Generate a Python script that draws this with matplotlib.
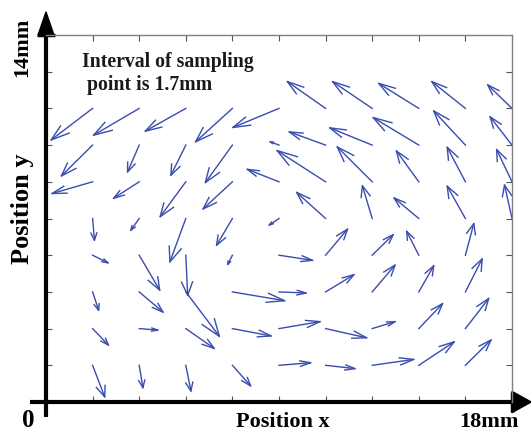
"""
Velocity field of the sampling points (quiver style, matlab-like arrows)
"""
import numpy as np
import matplotlib
matplotlib.use("Agg")
import matplotlib.pyplot as plt

# sampling grid (tick units), rows listed from top (y=8) to bottom (y=1)
x_pos = [1, 2, 3, 4, 5, 6, 7, 8, 9, 10]
y_pos = [8, 7, 6, 5, 4, 3, 2, 1]

u_rows = [
    [-0.89, -0.98, -0.87, -0.79, -0.99, -0.82, -0.85, -0.86, -0.72, -0.52],
    [-0.67, -0.25, -0.32, -0.58, -0.19, -0.78, -0.91, -0.98, -0.68, -0.47],
    [-0.87, -0.55, -0.55, -0.63, -0.68, -1.04, -0.75, -0.48, -0.39, -0.33],
    [0.04, -0.18, -0.34, -0.34, -0.21, -0.62, -0.21, -0.53, -0.39, -0.16],
    [0.33, 0.44, 0.04, -0.10, 0.72, 0.47, 0.45, -0.26, 0.18, np.nan],
    [0.13, 0.51, 0.72, 1.12, 0.58, 0.61, 0.49, 0.32, 0.36, np.nan],
    [0.34, 0.40, 0.61, 0.83, 0.88, 0.88, 0.49, 0.51, 0.50, np.nan],
    [0.26, 0.08, 0.11, 0.39, 0.68, 0.63, 0.89, 0.76, 0.55, np.nan],
]
v_rows = [
    [-0.86, -0.73, -0.62, -0.91, -0.52, 0.73, 0.73, 0.68, 0.73, 0.64],
    [-0.84, -0.73, -0.82, -1.02, 0.09, 0.36, 0.47, 0.75, 0.93, 0.77],
    [-0.32, -0.45, -0.95, -0.74, 0.34, 0.85, 0.95, 0.84, 0.94, 0.88],
    [-0.59, -0.32, -1.18, -0.73, -0.18, 0.71, 0.89, 0.56, 0.88, 0.91],
    [-0.21, -0.95, -1.09, -0.25, -0.14, 0.71, 0.56, 0.65, 0.86, np.nan],
    [-0.50, -0.55, -1.21, -0.24, -0.03, 0.47, 0.73, 0.71, 0.90, np.nan],
    [-0.45, -0.04, -0.54, -0.20, 0.19, -0.25, 0.19, 0.68, 0.82, np.nan],
    [-0.86, -0.61, -0.70, -0.56, 0.07, -0.09, 0.16, 0.64, 0.69, np.nan],
]

note_lines = ["Interval of sampling", "point is 1.7mm"]

X, Y = np.meshgrid(x_pos, y_pos)
U = np.array(u_rows)
V = np.array(v_rows)
ok = ~np.isnan(U)
X, Y, U, V = X[ok], Y[ok], U[ok], V[ok]

# matlab quiver head geometry
alpha = 0.33
beta = 0.33
tip_x = X + U
tip_y = Y + V
b1x = tip_x - alpha * (U + beta * V)
b1y = tip_y - alpha * (V - beta * U)
b2x = tip_x - alpha * (U - beta * V)
b2y = tip_y - alpha * (V + beta * U)

nan = np.full_like(X, np.nan, dtype=float)
shaft_x = np.column_stack([X, tip_x, nan]).ravel()
shaft_y = np.column_stack([Y, tip_y, nan]).ravel()
head_x = np.column_stack([b1x, tip_x, b2x, nan]).ravel()
head_y = np.column_stack([b1y, tip_y, b2y, nan]).ravel()

serif = ['Liberation Serif', 'DejaVu Serif']
blue = '#3a4cae'

fig = plt.figure(figsize=(5.31, 4.33), dpi=100)
ax = fig.add_axes([46 / 531, 31 / 433, 466 / 531, 367 / 433])

ax.plot(shaft_x, shaft_y, color=blue, lw=1.0)
ax.plot(head_x, head_y, color=blue, lw=1.0)

ax.set_xlim(0, 10)
ax.set_ylim(0, 10)
ax.set_xticks(range(1, 10))
ax.set_yticks(range(1, 10))
ax.tick_params(direction='in', top=True, right=True, length=4, width=0.8,
               color='#555555', labelbottom=False, labelleft=False)
for side in ['top', 'right']:
    ax.spines[side].set_color('#808080')
    ax.spines[side].set_linewidth(1.0)
for side in ['left', 'bottom']:
    ax.spines[side].set_visible(False)

# thick axis lines with arrow heads
tr = ax.transAxes
ax.plot([0, 0], [-0.042, 1.0], color='black', lw=3.0, transform=tr,
        clip_on=False, solid_capstyle='butt')
ax.plot([-0.034, 1.0], [0, 0], color='black', lw=3.0, transform=tr,
        clip_on=False, solid_capstyle='butt')
ax.fill([-0.017, 0.017, 0], [1.0, 1.0, 1.063], color='black', transform=tr,
        clip_on=False)
ax.fill([1.0, 1.0, 1.041], [-0.029, 0.029, 0], color='black', transform=tr,
        clip_on=False)
ax.plot([-0.02, 0.02], [1.0, 1.0], color='black', lw=2.5, transform=tr,
        clip_on=False, solid_capstyle='butt')
ax.plot([1.0, 1.0], [-0.028, 0.028], color='black', lw=2.5, transform=tr,
        clip_on=False, solid_capstyle='butt')

# note in two lines, second one slightly indented as in the original
ax.text(0.077, 0.955, note_lines[0], transform=tr, ha='left', va='top',
        family=serif, weight='bold', fontsize=14.2, color='#1a1a1a')
ax.text(0.088, 0.892, note_lines[1], transform=tr, ha='left', va='top',
        family=serif, weight='bold', fontsize=14.2, color='#1a1a1a')

fig.text(22.5 / 531, 1 - 47 / 433, '14mm', rotation=90, ha='center',
         va='center', family=serif, weight='bold', fontsize=16)
fig.text(22 / 531, 1 - 209 / 433, 'Position y', rotation=90, ha='center',
         va='center', family=serif, weight='bold', fontsize=19)
fig.text(283 / 531, 1 - 432 / 433, 'Position x', ha='center',
         va='bottom', family=serif, weight='bold', fontsize=16)
fig.text(489 / 531, 1 - 432 / 433, '18mm', ha='center',
         va='bottom', family=serif, weight='bold', fontsize=16)
fig.text(28.5 / 531, 1 - 432 / 433, '0', ha='center',
         va='bottom', family=serif, weight='bold', fontsize=18)

fig.savefig('out.png', dpi=100)
